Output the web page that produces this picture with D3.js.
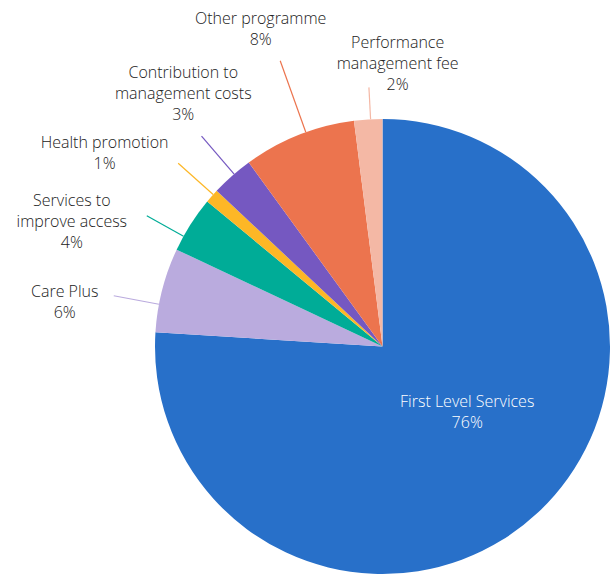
<!DOCTYPE html>
<html>
<head>
<meta charset="utf-8">
<script src="https://cdn.jsdelivr.net/npm/d3@7"></script>
<style>
  html, body { margin: 0; padding: 0; background: #ffffff; }
  svg { display: block; }
  .lbl { font-family: "Open Sans", "Lato", sans-serif; font-size: 16px; font-weight: 300; }
</style>
</head>
<body>
<svg id="chart" width="614" height="575"></svg>
<script>
// Budget split by programme area (share of total, %)
const categories = [
  "First Level Services",
  "Care Plus",
  "Services to improve access",
  "Health promotion",
  "Contribution to management costs",
  "Other programme",
  "Performance management fee"
];
const labelLines = [
  ["First Level Services"],
  ["Care Plus"],
  ["Services to", "improve access"],
  ["Health promotion"],
  ["Contribution to", "management costs"],
  ["Other programme"],
  ["Performance", "management fee"]
];
const shares = [76, 6, 4, 1, 3, 8, 2];
const sliceColors = ["#2870c9", "#baabde", "#00ac97", "#fdb726", "#7558c1", "#ec744e", "#f4b8a5"];

// Label placement: angular nudge from slice middle (deg), radial distance past the rim
// (negative = inside the slice), and offset of the first text baseline from that anchor.
const labelShift = [-8.8, -3.7, -3.4, 0.5, 0.7, 1.9, 0.6];
const labelReach = [-120, 46, 42, 47, 50, 76, 32];
const labelOffset = [[0, -5.3], [-49, 1.7], [-75, -9.7], [-73.6, -15.3], [-18.3, -58], [-19.5, -36.3], [28.7, -39.7]];

const W = 614, H = 575;
const cx = 382.5, cy = 346.5, R = 227.5;
const lineH = 21;

const svg = d3.select("#chart");
const g = svg.append("g").attr("transform", `translate(${cx},${cy})`);

const pie = d3.pie().sort(null).value(d => d.value);
const arc = d3.arc().innerRadius(0).outerRadius(R);

const data = categories.map((c, i) => ({
  name: c, value: shares[i], color: sliceColors[i], lines: labelLines[i],
  shift: labelShift[i], reach: labelReach[i], off: labelOffset[i], idx: i
}));
const arcs = pie(data);

g.selectAll("path.slice")
  .data(arcs)
  .join("path")
  .attr("class", "slice")
  .attr("d", arc)
  .attr("fill", d => d.data.color);

const polar = (a, r) => [r * Math.sin(a), -r * Math.cos(a)];
const fmt = v => d3.format(".0f")(v) + "%";

arcs.forEach(d => {
  const a = (d.startAngle + d.endAngle) / 2 + d.data.shift * Math.PI / 180;
  const outer = polar(a, R + d.data.reach);
  if (d.data.reach > 0) {
    const inner = polar(a, R);
    g.append("line")
      .attr("x1", inner[0]).attr("y1", inner[1])
      .attr("x2", outer[0]).attr("y2", outer[1])
      .attr("stroke", d.data.color)
      .attr("stroke-width", 1.2);
  }
  const x = outer[0] + d.data.off[0];
  const y = outer[1] + d.data.off[1];
  const t = g.append("text")
    .attr("class", "lbl")
    .attr("text-anchor", "middle")
    .attr("fill", d.data.idx === 0 ? "#ffffff" : "#222222");
  const lines = d.data.lines.concat([fmt(d.data.value)]);
  lines.forEach((s, k) => {
    t.append("tspan").attr("x", x).attr("y", y + k * lineH).text(s);
  });
});
</script>
</body>
</html>
